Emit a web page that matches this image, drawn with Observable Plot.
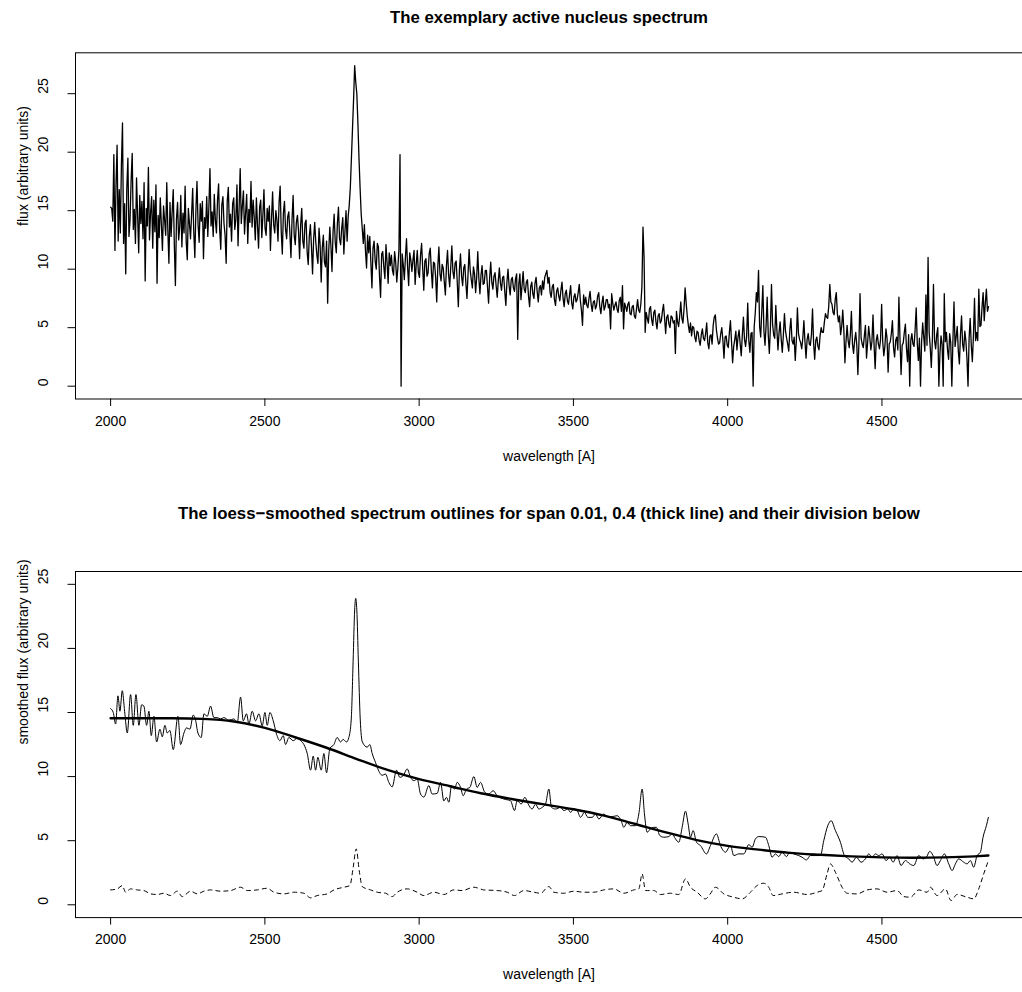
<!DOCTYPE html>
<html><head><meta charset="utf-8">
<script src="https://cdn.jsdelivr.net/npm/d3@7"></script>
<script src="https://cdn.jsdelivr.net/npm/@observablehq/plot@0.6"></script>
<style>
body{margin:0;background:#fff;}
#wrap{width:1022px;height:992px;position:relative;background:#fff;}
#wrap svg{display:block;}
</style></head><body><div id="wrap"></div>
<script>
// ---- data ----
const wlStart = 2000, wlStep = 3.5;
const flux = [
15.3,15.2,14.1,19.8,11.6,17.2,20.6,12.4,16.8,13.1,18.9,22.5,12.2,15.6,9.6,16.9,19.5,12.8,14.2,17.6,
19.9,13.4,15.1,12.2,17.8,14.6,11.4,16.3,13.9,15.8,12.6,17.4,9.0,15.2,13.7,18.7,12.5,14.8,16.2,11.8,
15.9,13.2,17.2,8.8,14.6,12.7,16.1,13.8,11.6,15.4,14.2,12.9,17.4,13.3,10.5,15.7,12.8,14.9,16.8,12.1,
8.6,14.3,15.7,12.5,13.6,16.3,11.9,14.8,13.1,17.1,12.4,10.8,15.2,13.9,12.6,14.7,16.9,13.2,11.0,15.1,
17.5,13.8,12.3,15.6,14.1,15.8,10.9,14.4,13.5,16.2,12.8,15.3,18.6,13.7,14.9,12.8,16.4,14.2,13.1,15.9,
17.3,13.4,11.7,15.5,16.2,13.9,12.9,10.5,15.8,17.0,13.6,14.7,12.4,15.6,16.1,13.4,14.3,17.2,12.0,15.2,
18.6,13.9,15.4,16.7,13.0,14.8,16.4,12.2,15.1,14.0,17.5,13.6,15.9,14.4,12.5,16.1,13.8,11.8,15.3,15.9,
12.7,14.6,16.8,13.5,12.9,15.2,14.1,15.4,11.6,14.3,16.6,13.8,13.1,15.0,14.2,12.4,15.7,17.1,13.2,11.3,
14.8,15.8,13.4,12.6,14.5,14.9,13.1,11.0,14.2,16.3,12.9,12.1,14.0,14.6,13.3,10.9,13.8,15.2,12.4,11.8,
13.9,14.2,11.5,10.4,12.8,13.8,11.9,9.6,12.6,14.0,12.3,11.2,10.5,13.5,12.1,8.9,11.8,12.9,10.6,10.2,
12.4,7.1,11.6,13.6,12.0,9.8,13.2,14.7,12.3,11.4,13.9,15.3,12.6,12.1,13.5,14.4,11.3,13.2,15.0,12.4,
14.5,15.5,17.0,19.5,22.0,24.5,27.4,26.0,25.0,22.5,19.5,17.0,14.8,13.5,12.2,13.8,11.6,10.1,12.9,11.4,
12.8,10.6,8.4,11.8,12.4,10.7,10.0,12.2,11.9,9.4,7.6,11.3,11.5,10.2,9.2,12.1,10.6,8.8,11.4,10.3,
11.2,9.9,9.5,11.5,10.6,8.9,10.1,11.7,19.8,0.0,11.3,10.4,9.1,11.0,12.6,10.2,8.6,11.4,10.8,9.8,
10.8,11.6,8.7,10.4,11.6,9.7,9.3,11.2,12.2,10.1,8.2,10.7,10.9,9.4,9.7,11.3,11.8,9.9,8.4,10.6,
10.5,9.3,7.2,10.2,11.9,9.6,9.0,10.4,10.1,8.9,7.8,10.3,11.6,9.5,8.5,10.2,12.0,9.8,9.2,10.5,
10.7,8.9,6.8,9.9,11.3,9.4,8.6,10.1,10.4,8.8,7.5,9.6,11.7,9.9,9.1,8.4,10.2,9.6,8.0,9.3,
11.5,9.2,7.9,9.5,10.3,8.7,8.8,9.9,9.9,8.5,7.1,9.2,10.6,8.9,8.3,9.4,9.7,8.6,7.6,9.0,
10.1,8.8,8.2,9.3,9.4,8.1,6.9,8.9,10.0,8.6,7.8,9.1,9.3,8.4,8.1,9.2,9.6,4.0,8.7,9.6,
7.4,8.6,9.8,8.3,8.0,8.9,9.1,7.7,6.8,8.5,8.9,7.9,7.5,8.8,9.3,8.1,7.2,8.4,8.6,7.8,
9.0,8.3,9.3,9.6,9.9,8.8,9.3,8.0,7.6,8.5,8.7,7.4,6.9,8.1,8.4,7.7,7.3,8.2,8.9,7.5,
6.8,7.9,8.2,7.3,7.0,7.8,8.6,7.1,6.6,7.6,7.9,7.2,7.4,8.0,8.7,7.3,6.5,5.2,7.8,7.0,
7.6,6.9,6.7,7.5,8.1,7.0,6.4,7.2,7.3,6.6,6.9,7.7,8.0,6.8,6.2,7.1,7.7,6.5,6.8,7.4,
7.4,6.7,7.0,4.9,7.9,7.1,6.5,6.9,7.2,6.6,6.3,7.3,7.6,6.4,8.6,4.9,7.1,6.8,6.4,7.0,
7.2,6.2,6.1,6.8,6.9,6.0,5.8,6.6,7.4,6.5,6.3,7.0,8.5,13.6,11.0,4.6,6.3,5.8,5.4,6.6,
6.8,5.7,5.2,6.3,6.5,5.5,4.9,6.0,6.2,5.4,5.6,6.4,7.0,5.8,4.5,5.9,6.1,5.3,5.0,6.0,
5.9,5.4,5.6,2.8,6.4,5.5,5.1,6.0,7.2,5.8,5.4,6.6,8.4,7.1,6.0,5.2,4.6,5.4,4.3,5.1,
5.0,4.2,3.8,4.7,4.6,3.9,3.5,4.4,4.9,4.1,3.9,4.5,5.4,3.7,3.2,4.3,4.4,3.6,5.2,5.9,
6.1,4.8,4.1,3.6,3.7,4.5,5.0,3.9,2.4,4.2,4.3,3.5,3.3,4.6,5.6,3.8,2.0,3.4,4.0,4.7,
3.1,4.2,4.8,3.6,2.6,4.4,5.9,4.0,3.4,4.3,7.1,3.9,2.9,4.5,4.6,0.0,5.1,6.3,8.0,7.2,
9.9,5.1,4.2,6.4,8.6,4.7,3.5,5.2,7.6,4.4,2.8,5.0,8.7,5.3,4.4,4.1,6.9,4.8,3.1,4.6,
5.5,4.0,2.9,4.4,6.2,4.7,4.1,3.6,3.0,4.8,5.8,3.9,3.6,4.2,2.2,3.9,6.7,4.5,4.0,3.7,
3.2,4.1,5.6,3.8,2.4,4.0,4.5,3.6,3.5,4.4,6.6,3.7,2.3,3.9,4.2,3.4,3.1,4.3,5.0,4.6,
4.6,5.5,6.2,5.9,5.8,6.8,8.7,7.2,7.0,6.3,6.1,7.4,8.0,6.2,5.5,6.0,4.4,5.1,6.5,4.8,
2.0,3.8,5.2,3.9,3.3,4.4,6.4,3.6,2.8,3.9,4.6,3.5,1.0,3.8,7.9,4.1,3.6,3.3,4.3,5.2,
2.4,3.7,5.1,4.2,3.1,3.8,6.1,3.5,1.5,3.9,4.4,3.6,3.2,4.0,7.0,3.8,2.6,3.4,4.9,4.1,
1.2,3.6,3.8,4.5,5.6,3.3,2.5,3.9,4.2,3.1,7.6,4.0,1.0,3.5,3.7,4.6,5.3,3.2,2.1,4.4,
0.0,3.9,4.5,3.6,3.4,4.8,6.7,3.7,2.2,4.1,0.0,3.8,5.4,4.2,3.0,7.8,3.5,11.0,4.6,3.3,
1.6,4.0,8.7,3.9,3.2,4.4,5.0,0.0,2.8,4.3,3.6,0.0,7.9,3.8,4.6,3.1,2.3,4.5,3.7,0.0,
3.9,7.2,3.4,4.2,5.1,3.0,1.9,4.4,6.0,3.6,3.0,4.7,3.9,2.4,0.0,4.1,5.8,3.5,2.1,4.3,
7.5,3.9,4.6,3.9,8.3,5.1,5.2,6.8,8.0,5.6,7.1,8.3,6.4,6.8
];

// loess span 0.01 (thin line)
const thinWl = [
2000,2008.6,2016.2,2023.8,2030.2,2037.8,2045.4,2054.0,2064.8,2073.4,2082.1,2091.8,2100.4,2108.0,2116.6,2124.2,2131.8,2140.4,2149.1,2159.8,
2167.4,2176.0,2183.6,2192.2,2203.0,2218.2,2226.8,2237.6,2246.2,2257.1,2267.9,2275.4,2283.0,2293.8,2302.4,2313.2,2324.0,2334.8,2345.6,2356.4,
2367.2,2383.4,2399.6,2410.4,2421.2,2429.9,2440.7,2448.2,2459.0,2469.9,2480.7,2491.5,2500.1,2507.7,2516.3,2527.1,2537.9,2548.7,2559.5,2567.1,
2577.9,2591.9,2604.9,2615.7,2626.5,2637.3,2648.1,2656.7,2664.3,2671.8,2682.6,2691.2,2699.9,2710.7,2723.6,2734.4,2745.2,2753.8,2764.6,2772.2,
2780,2786,2791,2794.5,2798,2803,2809,2816,2831.6,2840.2,2847.8,2858.6,2866.2,2880.2,2891.0,2901.8,2912.6,
2926.7,2937.5,2948.4,2961.3,2972.1,2982.9,2993.7,3004.5,3015.3,3031.5,3042.3,3058.5,3069.3,3080.1,3088.8,3096.3,3105.0,3114.7,3123.3,3134.1,
3142.8,3153.6,3164.4,3177.3,3188.1,3198.9,3213.0,3225.9,3240.0,3252.9,3274.5,3296.1,3309.1,3317.7,3330.7,3342.6,3353.4,3366.3,3377.1,3387.9,
3398.8,3409.6,3420.4,3429.0,3442.0,3458.2,3469.0,3481.9,3490.6,3501.4,3512.2,3523.0,3535.9,3546.7,3560.8,3571.6,3582.4,3598.6,3609.4,3625.6,
3641.8,3654.7,3663.4,3674.2,3685.0,3701.2,3712.0,3722.8,3730.3,3739.0,3749.8,3760.6,3769.2,3780.0,3793.0,3809.2,3820.0,3830.8,3841.6,3852.4,
3863.2,3871.9,3879.4,3888.1,3898.9,3911.8,3931.2,
3944.2,3963.6,3976.6,3992.8,4009.0,4019.8,4036.0,4052.2,4068.4,4079.2,4090.0,4100.8,4122.4,4133.2,4144.0,4154.8,4165.6,4176.4,4190.5,4201.3,
4214.2,4230.4,4241.2,4255.3,4268.2,4284.4,4300.6,4311.4,4324.4,4335.2,4349.2,4365.4,4378.4,4392.4,4403.2,4417.3,4432.4,4446.5,4457.3,4468.1,
4478.9,4489.7,4500.5,4513.4,4525.3,4536.1,4549.1,4562.0,4576.1,4590.1,4603.1,4619.3,4633.3,4644.1,4654.9,4665.7,4678.7,4689.5,4702.4,4716.5,
4727.3,4738.1,4748.9,4765.1,4775.9,4786.7,4797.5,4808.3,4819.1,4827.7,4838.5,4845
];
const thinFlux = [
15.3,15.0,14.1,16.3,15.1,16.7,15.1,13.4,16.4,14.0,16.4,14.0,15.6,15.5,14.0,15.1,13.2,14.7,12.7,13.7,
13.1,14.0,13.4,13.6,12.1,14.7,12.5,13.4,13.8,13.7,14.8,14.4,13.4,13.05,14.9,14.7,15.5,14.6,14.6,14.5,
14.6,14.4,14.5,14.2,16.2,14.35,14.9,14.1,15.1,14.35,14.9,13.96,15.0,14.0,15.0,14.35,13.3,12.8,13.2,12.5,
13.05,12.8,13.0,12.8,12.5,11.8,10.5,11.6,10.5,11.5,10.5,11.8,10.3,12.2,12.5,13.05,12.7,12.9,12.7,13.05,
14.5,19.0,23.0,23.9,23.0,19.0,14.5,12.7,12.3,12.5,11.8,11.1,10.6,10.1,10.2,9.55,9.2,
10.5,9.94,10.07,10.6,9.94,9.68,9.81,8.64,8.4,9.3,8.64,8.69,9.55,8.1,8.38,8.0,9.3,9.03,9.55,9.16,
8.51,9.03,9.16,10.0,9.16,9.55,8.77,8.64,8.9,8.51,8.25,8.12,7.35,8.12,7.86,8.38,7.86,7.47,7.86,7.47,
7.6,7.86,9.03,7.6,7.47,7.6,7.35,7.47,7.21,7.47,7.35,6.82,7.21,6.82,6.82,7.08,6.69,7.08,6.88,6.88,
6.95,6.56,6.04,6.43,6.17,6.17,7.08,9.03,7.08,5.66,5.92,6.04,6.04,5.4,5.27,5.32,5.53,5.14,4.88,6.04,
7.3,6.3,5.27,5.79,4.88,4.62,3.97,
4.62,5.53,4.62,4.1,4.62,3.84,3.97,3.97,4.7,4.49,5.14,5.32,5.27,4.62,3.71,3.97,3.76,4.1,3.76,4.1,
3.97,3.84,3.71,3.5,3.84,3.84,3.84,5.0,6.17,6.56,5.79,4.88,3.84,3.58,3.32,3.71,3.32,3.58,3.97,3.71,
3.97,3.84,3.97,3.45,3.71,3.32,3.84,3.06,3.45,3.19,3.06,3.84,3.58,3.71,4.17,3.84,3.06,3.45,3.97,3.19,
2.67,3.19,3.58,3.32,3.19,3.45,2.93,3.84,4.1,5.27,6.17,6.82
];

// loess span 0.4 (thick line)
const thickWl = [2000,2100,2200,2300,2400,2500,2600,2700,2800,2900,3000,3100,3200,3300,3400,3500,3600,3700,3800,3900,4000,4100,4200,4300,4400,4500,4600,4700,4800,4845];
const thickFlux = [14.55,14.55,14.55,14.5,14.3,13.8,13.05,12.25,11.35,10.5,9.8,9.25,8.7,8.25,7.85,7.45,6.95,6.3,5.65,5.05,4.6,4.3,4.05,3.9,3.78,3.7,3.67,3.7,3.78,3.84];

// division of the two outlines (dashed line)
const ratioWl = [
2000,2021.6,2037.8,2048.6,2064.8,2086.4,2108.0,2129.6,2151.2,2172.8,2194.4,2216.0,2232.2,2259.2,2280.8,2302.4,2324.0,2356.4,2388.8,2421.2,
2442.8,2475.3,2507.7,2529.3,2561.7,2594.1,2626.5,2648.1,2669.7,2702.1,2723.7,2756.1,2775.5,2786.3,2796.0,2805.8,2815.5,2842.5,2864.1,2891.1,
2912.7,2928.9,2961.3,2993.7,3015.3,3047.7,3080.1,3112.5,3139.5,3177.3,3209.7,3252.9,3285.3,3309.1,3339.3,3371.7,3393.3,3420.4,3436.6,3469.0,
3501.4,3533.8,3566.2,3598.6,3631.0,3663.4,3695.8,3712.0,3722.8,3733.6,3760.6,3782.2,3814.6,3841.6,3863.2,3879.4,3901.0,3928.0,3942.1,3960.4,
3987.4,4019.8,4046.8,4073.8,4095.4,4117.0,4133.2,4147.3,4176.4,4214.2,4257.4,4289.8,4306.0,4322.2,4333.0,4349.2,4370.8,4387.0,4419.4,4451.9,
4484.3,4516.7,4549.1,4570.7,4592.3,4619.3,4646.3,4657.1,4678.7,4705.7,4724.0,4743.5,4775.9,4797.5,4813.7,4829.9,4845
];
const ratioVal = [
1.16,1.24,1.50,0.98,1.24,1.16,1.11,0.85,0.80,0.90,0.72,1.06,0.64,1.06,0.85,1.06,1.16,1.06,1.11,1.37,
1.11,1.16,1.29,0.98,0.85,0.98,0.90,0.54,0.72,0.85,1.16,1.37,1.50,2.93,4.36,2.67,1.42,1.16,0.98,0.90,
0.64,0.98,1.24,0.98,0.72,0.98,0.80,1.16,1.11,1.37,1.16,1.11,0.98,0.72,1.11,0.98,0.90,1.42,0.98,0.90,
1.06,0.98,0.98,1.16,1.24,0.90,1.16,1.24,2.41,1.11,1.11,0.80,0.90,0.80,2.02,1.37,0.98,0.46,0.80,1.37,
0.85,0.59,0.46,0.98,1.50,1.68,1.37,0.72,0.85,0.98,0.80,0.98,1.11,2.41,3.19,2.54,1.37,0.90,0.85,1.16,
1.24,0.98,1.11,0.64,0.59,1.16,0.98,1.37,0.72,1.24,0.33,0.80,0.59,0.46,1.24,2.41,3.45
];

const xTicks = [2000, 2500, 3000, 3500, 4000, 4500];
const yTicks = [0, 5, 10, 15, 20, 25];
const title1 = "The exemplary active nucleus spectrum";
const title2 = "The loess\u2212smoothed spectrum outlines for span 0.01, 0.4 (thick line) and their division below";
const xLabel = "wavelength [A]";
const yLabel1 = "flux (arbitrary units)";
const yLabel2 = "smoothed flux (arbitrary units)";

// ---- drawing ----
const font = "'Liberation Sans', Arial, Helvetica, sans-serif";
const xDomain = [1886.2, 4958.8];

function panel({lineMarks, yDomain, marginTop, marginBottom, title, titleY, yLabel}) {
  return Plot.plot({
    width: 1022, height: 496,
    marginLeft: 75, marginRight: 0, marginTop, marginBottom,
    style: {fontFamily: font, fontSize: "14px", background: "white", color: "black"},
    x: {domain: xDomain, range: [75, 1023]},
    y: {domain: yDomain},
    marks: [
      ...lineMarks,
      Plot.frame({stroke: "black", strokeWidth: 1}),
      Plot.axisX({ticks: xTicks, tickSize: 7.5, tickPadding: 0, tickFormat: () => "", label: null, stroke: "black"}),
      Plot.axisY({ticks: yTicks, tickSize: 7.5, tickPadding: 0, tickFormat: () => "", label: null, stroke: "black"}),
      Plot.text(xTicks, {x: d => d, text: d => String(d), frameAnchor: "bottom", dy: 26.5, fontSize: 14, fill: "black"}),
      Plot.text(yTicks, {y: d => d, text: d => String(d), frameAnchor: "left", dx: -32, rotate: -90, fontSize: 14, fill: "black"}),
      Plot.text([xLabel], {text: d => d, frameAnchor: "bottom", dy: 61.5, fontSize: 14, fill: "black"}),
      Plot.text([yLabel], {text: d => d, frameAnchor: "left", dx: -52, rotate: -90, fontSize: 14, fill: "black"}),
      Plot.text([title], {text: d => d, frameAnchor: "top", dy: titleY - marginTop, fontSize: 16.8, fontWeight: "bold", fill: "black"})
    ]
  });
}

const p1 = panel({
  lineMarks: [
    Plot.line(flux, {x: (d, i) => wlStart + i * wlStep, y: d => d, stroke: "black", strokeWidth: 1.3})
  ],
  yDomain: [-1.096, 28.496],
  marginTop: 52.3, marginBottom: 97.5,
  title: title1, titleY: 10.5, yLabel: yLabel1
});

const p2 = panel({
  lineMarks: [
    Plot.line(thinWl, {x: d => d, y: (d, i) => thinFlux[i], curve: "monotone-x", stroke: "black", strokeWidth: 1}),
    Plot.line(thickWl, {x: d => d, y: (d, i) => thickFlux[i], curve: "monotone-x", stroke: "black", strokeWidth: 2.4}),
    Plot.line(ratioWl, {x: d => d, y: (d, i) => ratioVal[i], curve: "monotone-x", stroke: "black", strokeWidth: 1, strokeDasharray: "4,4"})
  ],
  yDomain: [-1, 26],
  marginTop: 75, marginBottom: 74.9,
  title: title2, titleY: 10.5, yLabel: yLabel2
});

const wrap = document.getElementById("wrap");
wrap.appendChild(p1);
wrap.appendChild(p2);
</script>
</body></html>
